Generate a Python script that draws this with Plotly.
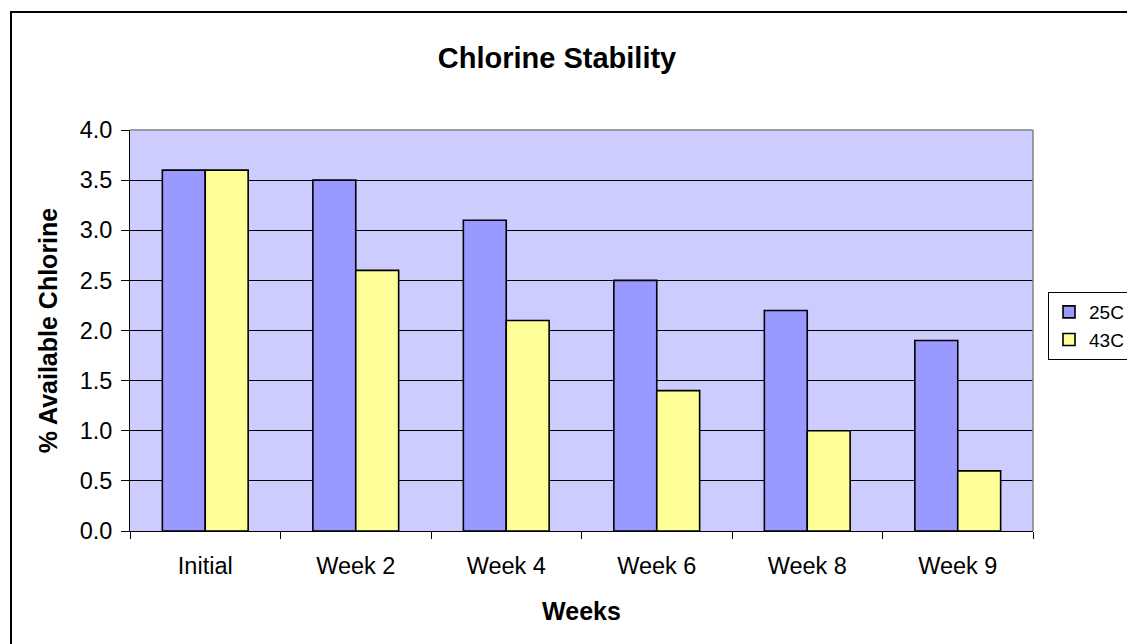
import plotly.graph_objects as go

categories = ["Initial", "Week 2", "Week 4", "Week 6", "Week 8", "Week 9"]
series_names = ["25C", "43C"]
values_25c = [3.6, 3.5, 3.1, 2.5, 2.2, 1.9]
values_43c = [3.6, 2.6, 2.1, 1.4, 1.0, 0.6]
y_ticks = [0.0, 0.5, 1.0, 1.5, 2.0, 2.5, 3.0, 3.5, 4.0]
y_tick_labels = ["0.0", "0.5", "1.0", "1.5", "2.0", "2.5", "3.0", "3.5", "4.0"]

W, H = 1127, 644
L, R, T, B = 130, 1033, 130, 531

FONT = "Liberation Sans, Arial, sans-serif"

fig = go.Figure()
fig.add_trace(go.Bar(x=categories, y=values_25c, name=series_names[0],
                     marker=dict(color="#9999FF", line=dict(color="black", width=1.6))))
fig.add_trace(go.Bar(x=categories, y=values_43c, name=series_names[1],
                     marker=dict(color="#FFFF99", line=dict(color="black", width=1.6))))

def px_x(x):
    return (x - L) / (R - L)

def px_y(y):
    return (B - y) / (B - T)

fig.update_layout(
    width=W, height=H,
    margin=dict(l=L, r=W - R, t=T, b=H - B, autoexpand=False),
    paper_bgcolor="white",
    plot_bgcolor="#CCCCFF",
    font=dict(family=FONT, size=23.5, color="black"),
    barmode="group",
    bargap=0.43,
    bargroupgap=0,
    title=dict(text="<b>Chlorine Stability</b>", font=dict(size=29, family=FONT),
               xref="paper", x=px_x(557), xanchor="center",
               yref="container", y=1 - 58 / H, yanchor="middle"),
    xaxis=dict(
        type="category",
        showline=True, linecolor="black", linewidth=1,
        ticks="outside", tickson="boundaries", ticklen=7, tickcolor="black",
        ticklabelstandoff=14,
        showgrid=False,
        title=dict(text="<b>Weeks</b>", font=dict(size=25), standoff=24),
    ),
    yaxis=dict(
        range=[0, 4],
        tickvals=y_ticks, ticktext=y_tick_labels,
        showline=True, linecolor="black", linewidth=1,
        ticks="outside", ticklen=8, tickcolor="black",
        ticklabelstandoff=4,
        showgrid=True, gridcolor="black", gridwidth=1,
        zeroline=False,
        title=dict(text="<b>% Available Chlorine</b>", font=dict(size=25), standoff=14),
    ),
    legend=dict(
        x=px_x(1048), xanchor="left",
        y=px_y(292), yanchor="top",
        bgcolor="white", bordercolor="black", borderwidth=1,
        font=dict(size=19),
        itemwidth=30,
        tracegroupgap=0,
    ),
    showlegend=True,
)

# gray top and right plot-area border
fig.add_shape(type="line", xref="paper", yref="paper", x0=0, x1=1, y0=1, y1=1,
              line=dict(color="#808080", width=1.5))
fig.add_shape(type="line", xref="paper", yref="paper", x0=1, x1=1, y0=0, y1=1,
              line=dict(color="#808080", width=1.5))
# outer chart border (extends beyond the visible canvas on right and bottom)
fig.add_shape(type="rect", xref="paper", yref="paper",
              x0=px_x(11), x1=px_x(1160), y0=px_y(680), y1=px_y(12),
              line=dict(color="black", width=2), fillcolor="rgba(0,0,0,0)")

fig.write_html("out.html", config={"displayModeBar": False},
               post_script="document.body.style.margin='0';")
